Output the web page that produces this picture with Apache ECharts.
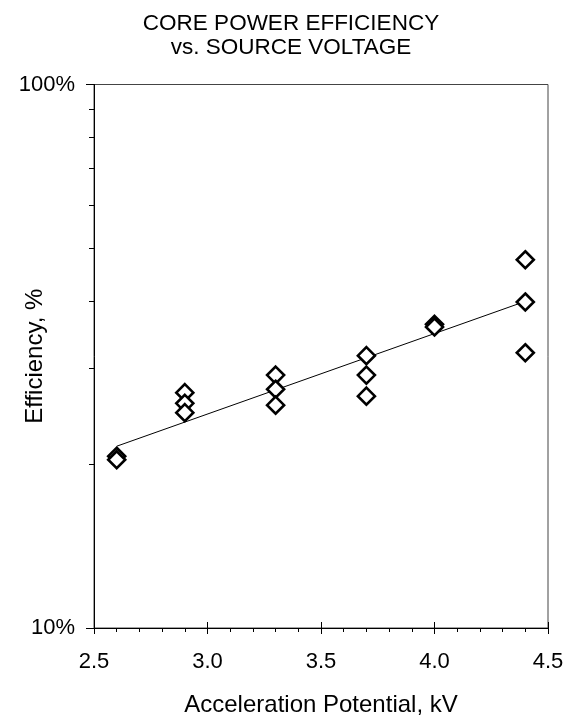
<!DOCTYPE html>
<html>
<head>
<meta charset="utf-8">
<script src="https://cdn.jsdelivr.net/npm/echarts@6/dist/echarts.min.js"></script>
<style>
html,body{margin:0;padding:0;background:#fff;}
#chart{width:574px;height:715px;}
</style>
</head>
<body>
<div id="chart"></div>
<script>
// Data
const voltage = [2.6, 2.6, 2.9, 2.9, 2.9, 3.3, 3.3, 3.3, 3.7, 3.7, 3.7, 4.0, 4.0, 4.4, 4.4, 4.4];
const efficiency = [20.7, 20.4, 27.1, 25.9, 24.9, 29.2, 27.5, 25.7, 31.7, 29.2, 26.7, 36.2, 35.8, 47.6, 39.8, 32.1];
const trendVoltage = [2.6, 4.4];
const trendEfficiency = [21.6, 39.9];
const yMinorTicks = [20, 30, 40, 50, 60, 70, 80, 90];
const titleLines = ['CORE POWER EFFICIENCY', 'vs. SOURCE VOLTAGE'];

const font = "'Liberation Sans', Arial, Helvetica, sans-serif";
const points = voltage.map((v, i) => [v, efficiency[i]]);
const trend = trendVoltage.map((v, i) => [v, trendEfficiency[i]]);

const chart = echarts.init(document.getElementById('chart'), null, {renderer: 'canvas'});
chart.setOption({
  animation: false,
  backgroundColor: '#fff',
  title: {
    text: titleLines.join('\n'),
    left: 286,
    top: 7,
    textAlign: 'center',
    textStyle: {fontFamily: font, fontSize: 22.5, fontWeight: 'normal', color: '#000', lineHeight: 24}
  },
  grid: {left: 94, right: 26, top: 84.5, bottom: 87, show: true, borderColor: '#444', borderWidth: 1, containLabel: false, outerBoundsMode: 'none'},
  xAxis: [{
    type: 'value', min: 2.5, max: 4.5, interval: 0.5, position: 'bottom',
    name: 'Acceleration Potential, kV', nameLocation: 'middle', nameGap: 65, nameMoveOverlap: false,
    nameTextStyle: {fontFamily: font, fontSize: 24, color: '#000'},
    axisLine: {show: true, lineStyle: {color: '#000', width: 1}},
    axisTick: {show: true, inside: false, length: 6, lineStyle: {color: '#000', width: 1}},
    minorTick: {show: true, splitNumber: 5, length: 4, lineStyle: {color: '#000', width: 1}},
    axisLabel: {fontFamily: font, fontSize: 22, color: '#000', margin: 23, formatter: v => v.toFixed(1)},
    splitLine: {show: false}, minorSplitLine: {show: false}
  }, {
    type: 'value', min: 2.5, max: 4.5, interval: 0.5, position: 'bottom',
    axisLine: {show: false},
    axisTick: {show: true, inside: true, length: 6, lineStyle: {color: '#000', width: 1}},
    axisLabel: {show: false}, splitLine: {show: false}
  }],
  yAxis: [{
    type: 'log', logBase: 10, min: 10, max: 100, position: 'left',
    name: 'Efficiency, %', nameLocation: 'middle', nameGap: 47, nameRotate: 90, nameMoveOverlap: false,
    nameTextStyle: {fontFamily: font, fontSize: 24, color: '#000'},
    axisLine: {show: true, lineStyle: {color: '#000', width: 1}},
    axisTick: {show: true, inside: false, length: 8, lineStyle: {color: '#000', width: 1}},
    axisLabel: {fontFamily: font, fontSize: 22, color: '#000', margin: 19, formatter: '{value}%'},
    splitLine: {show: false}
  }, {
    type: 'log', logBase: 10, min: 10, max: 100, position: 'left',
    axisLine: {show: false},
    axisTick: {show: true, inside: false, length: 5, customValues: yMinorTicks, lineStyle: {color: '#000', width: 1}},
    axisLabel: {show: false}, splitLine: {show: false}
  }],
  series: [{
    type: 'line', data: trend, xAxisIndex: 0, yAxisIndex: 0,
    showSymbol: false, symbol: 'none', silent: true, z: 2,
    lineStyle: {color: '#000', width: 1}
  }, {
    type: 'scatter', data: points, xAxisIndex: 0, yAxisIndex: 0,
    symbol: 'diamond', symbolSize: 17, z: 3,
    itemStyle: {color: '#fff', borderColor: '#000', borderWidth: 2.6, opacity: 1}
  }]
});
</script>
</body>
</html>
